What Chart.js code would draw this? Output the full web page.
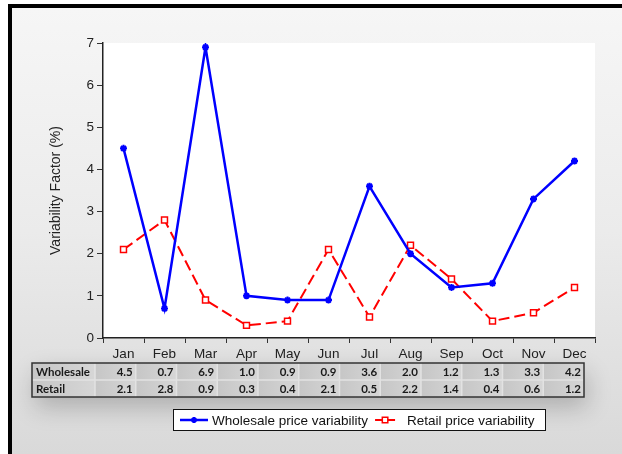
<!DOCTYPE html>
<html>
<head>
<meta charset="utf-8">
<script src="https://cdn.jsdelivr.net/npm/chart.js@4/dist/chart.umd.min.js"></script>
<style>
  html, body { margin: 0; padding: 0; background: #fff; }
  #c { display: block; }
</style>
</head>
<body>
<canvas id="c" width="622" height="454"></canvas>
<script>
// Monthly price variability (%)
const months = ['Jan','Feb','Mar','Apr','May','Jun','Jul','Aug','Sep','Oct','Nov','Dec'];
const wholesale = [4.5, 0.7, 6.9, 1.0, 0.9, 0.9, 3.6, 2.0, 1.2, 1.3, 3.3, 4.2];
const retail    = [2.1, 2.8, 0.9, 0.3, 0.4, 2.1, 0.5, 2.2, 1.4, 0.4, 0.6, 1.2];
const yTicks    = [0, 1, 2, 3, 4, 5, 6, 7];
const tableRows = [['Wholesale', wholesale], ['Retail', retail]];
const seriesNames = ['Wholesale price variability', 'Retail price variability'];

const SANS = '"Liberation Sans", Arial, sans-serif';
const LEGEND_FONT = '13.5px ' + SANS;
const TABLE_FONT = 'bold 11.5px Lato, "Open Sans", sans-serif';

function drawStar(ctx, x, y, r, color) {
  ctx.save();
  ctx.strokeStyle = color;
  ctx.lineWidth = 2;
  ctx.beginPath();
  ctx.moveTo(x - r, y); ctx.lineTo(x + r, y);
  ctx.moveTo(x, y - r); ctx.lineTo(x, y + r);
  const d = r * Math.SQRT1_2;
  ctx.moveTo(x - d, y - d); ctx.lineTo(x + d, y + d);
  ctx.moveTo(x - d, y + d); ctx.lineTo(x + d, y - d);
  ctx.stroke();
  ctx.restore();
}

function drawSquare(ctx, x, y, s, color) {
  ctx.save();
  ctx.fillStyle = '#fff';
  ctx.strokeStyle = color;
  ctx.lineWidth = 1.5;
  ctx.fillRect(x - s / 2, y - s / 2, s, s);
  ctx.strokeRect(x - s / 2, y - s / 2, s, s);
  ctx.restore();
}

// Frame, panel gradient and white plot area
const backdrop = {
  id: 'backdrop',
  beforeDraw(chart) {
    const ctx = chart.ctx, a = chart.chartArea;
    const W = chart.width, H = chart.height;
    ctx.save();
    ctx.fillStyle = '#fff';
    ctx.fillRect(0, 0, W, H);
    ctx.fillStyle = '#000';
    ctx.fillRect(8, 4, W - 8, H - 4);
    const g = ctx.createLinearGradient(0, 8, 0, H);
    g.addColorStop(0, '#f6f6f6');
    g.addColorStop(0.5, '#ebebeb');
    g.addColorStop(1, '#d9d9d9');
    ctx.fillStyle = g;
    ctx.fillRect(12, 8, W - 12, H - 8);
    ctx.fillStyle = '#fff';
    ctx.fillRect(a.left, a.top, a.right - a.left, a.bottom - a.top);
    ctx.restore();
  }
};

// Data table under the month axis, and the boxed legend
const tableAndLegend = {
  id: 'tableAndLegend',
  afterDraw(chart) {
    const ctx = chart.ctx;
    const x0 = 32, x1 = 584, y0 = 363, rowH = 17;
    const labelW = 63;
    const colW = (x1 - x0 - labelW) / months.length;
    const y1 = y0 + rowH * tableRows.length;

    ctx.save();
    // soft shadow under the table
    ctx.shadowColor = 'rgba(0,0,0,0.22)';
    ctx.shadowBlur = 24;
    ctx.shadowOffsetX = 3;
    ctx.shadowOffsetY = 10;
    ctx.fillStyle = '#cbcbcb';
    ctx.fillRect(x0, y0, x1 - x0, y1 - y0);
    ctx.restore();

    ctx.save();
    // cell shading
    for (let r = 0; r < tableRows.length; r++) {
      const cy = y0 + r * rowH;
      const cells = [[x0, labelW]];
      for (let i = 0; i < months.length; i++) cells.push([x0 + labelW + i * colW, colW]);
      cells.forEach(([cx, w]) => {
        const g = ctx.createLinearGradient(cx, 0, cx + w, 0);
        g.addColorStop(0, '#c6c6c6');
        g.addColorStop(1, '#d6d6d6');
        ctx.fillStyle = g;
        ctx.fillRect(cx, cy, w, rowH);
      });
    }
    // light separators
    ctx.strokeStyle = '#e2e2e2';
    ctx.lineWidth = 1.5;
    ctx.beginPath();
    for (let i = 0; i < months.length; i++) {
      const sx = x0 + labelW + i * colW;
      ctx.moveTo(sx, y0); ctx.lineTo(sx, y1);
    }
    ctx.moveTo(x0, y0 + rowH); ctx.lineTo(x1, y0 + rowH);
    ctx.stroke();
    // outer border
    ctx.strokeStyle = '#333';
    ctx.lineWidth = 1.5;
    ctx.strokeRect(x0, y0, x1 - x0, y1 - y0);

    // text
    ctx.font = TABLE_FONT;
    ctx.fillStyle = '#1a1a1a';
    ctx.textBaseline = 'middle';
    tableRows.forEach(([name, vals], r) => {
      const cy = y0 + r * rowH + rowH / 2 + 0.5;
      ctx.textAlign = 'left';
      ctx.fillText(name, x0 + 4, cy);
      ctx.textAlign = 'right';
      vals.forEach((v, i) => {
        ctx.fillText(v.toFixed(1), x0 + labelW + (i + 1) * colW - 3, cy);
      });
    });
    ctx.restore();

    // legend box
    ctx.save();
    const lx0 = 173, lx1 = 546, ly0 = 409, ly1 = 431;
    const ly = (ly0 + ly1) / 2;
    ctx.fillStyle = '#fff';
    ctx.fillRect(lx0, ly0, lx1 - lx0, ly1 - ly0);
    ctx.strokeStyle = '#111';
    ctx.lineWidth = 1;
    ctx.strokeRect(lx0 + 0.5, ly0 + 0.5, lx1 - lx0 - 1, ly1 - ly0 - 1);

    ctx.font = LEGEND_FONT;
    ctx.fillStyle = '#111';
    ctx.textBaseline = 'middle';
    ctx.textAlign = 'left';

    // wholesale entry
    ctx.strokeStyle = '#0000ff';
    ctx.lineWidth = 2.5;
    ctx.beginPath(); ctx.moveTo(180, ly); ctx.lineTo(208, ly); ctx.stroke();
    drawStar(ctx, 194, ly, 3, '#0000ff');
    ctx.fillText(seriesNames[0], 212, ly + 1);
    const t1 = 212 + ctx.measureText(seriesNames[0]).width;

    // retail entry
    const rx = t1 + 7;
    ctx.strokeStyle = '#ff0000';
    ctx.lineWidth = 2;
    ctx.beginPath(); ctx.moveTo(rx, ly); ctx.lineTo(rx + 20, ly); ctx.stroke();
    drawSquare(ctx, rx + 10, ly, 5.5, '#ff0000');
    ctx.fillText(seriesNames[1], rx + 32, ly + 1);
    ctx.restore();
  }
};

new Chart(document.getElementById('c'), {
  type: 'line',
  data: {
    labels: months,
    datasets: [
      {
        label: seriesNames[0],
        data: wholesale,
        borderColor: '#0000ff',
        backgroundColor: '#0000ff',
        borderWidth: 2.5,
        pointStyle: 'star',
        pointRadius: 3.5,
        pointBorderWidth: 2,
        pointBorderColor: '#0000ff',
        tension: 0
      },
      {
        label: seriesNames[1],
        data: retail,
        borderColor: '#ff0000',
        backgroundColor: '#ffffff',
        borderWidth: 2,
        borderDash: [11, 5],
        pointStyle: 'rect',
        pointRadius: 4.2,
        pointBorderWidth: 1.5,
        pointBorderColor: '#ff0000',
        pointBackgroundColor: '#ffffff',
        tension: 0
      }
    ]
  },
  options: {
    responsive: false,
    animation: false,
    events: [],
    layout: { padding: { top: 43, right: 27, bottom: 86, left: 42 } },
    plugins: {
      legend: { display: false },
      tooltip: { enabled: false }
    },
    scales: {
      x: {
        type: 'category',
        offset: true,
        grid: { offset: true, drawOnChartArea: false, tickLength: 5, color: '#333', lineWidth: 1 },
        border: { color: '#222', width: 1.5 },
        ticks: { font: { family: SANS, size: 13.5 }, color: '#222', padding: 3, maxRotation: 0 },
        afterFit(s) { s.height = 30; }
      },
      y: {
        min: 0,
        max: 7,
        afterBuildTicks(s) { s.ticks = yTicks.map(v => ({ value: v })); },
        grid: { drawOnChartArea: false, tickLength: 6, color: '#333', lineWidth: 1 },
        border: { color: '#222', width: 1.5 },
        ticks: { font: { family: SANS, size: 13.5 }, color: '#222', padding: 3 },
        title: {
          display: true,
          text: 'Variability Factor (%)',
          font: { family: SANS, size: 14 },
          color: '#222',
          padding: { top: 6, bottom: 0 }
        },
        afterFit(s) { s.width = 103 - 42; }
      }
    }
  },
  plugins: [backdrop, tableAndLegend]
});
</script>
</body>
</html>
